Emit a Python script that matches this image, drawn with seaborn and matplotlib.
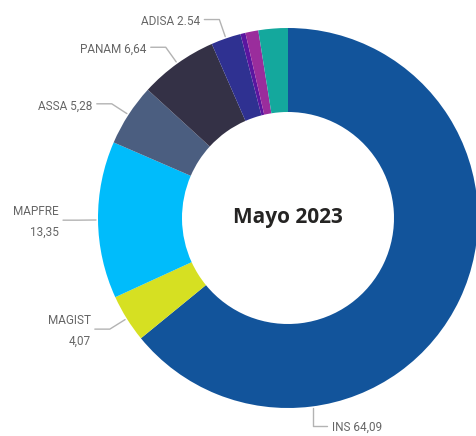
import numpy as np
import matplotlib
matplotlib.use("Agg")
import matplotlib.pyplot as plt
import seaborn as sns

# ================= estilo =================
sns.set_style("white")
plt.rcParams["font.family"] = ["Roboto", "DejaVu Sans"]

# 1. datos (participación de mercado, %)
aseguradoras = ["INS", "MAGIST", "MAPFRE", "ASSA", "PANAM", "ADISA", "OTRA 1", "OTRA 2", "OTRA 3"]
participacion = [64.09, 4.07, 13.35, 5.28, 6.64, 2.54, 0.43, 1.10, 2.50]
etiquetas = ["INS 64,09", "MAGIST\n4,07", "MAPFRE\n13,35", "ASSA 5,28",
             "PANAM 6,64", "ADISA 2.54", None, None, None]
colores = ["#12549b", "#d6e022", "#00bcfb", "#4b5e80", "#343146",
           "#2f3191", "#5a16a0", "#9a2d9c", "#14a89d"]
titulo = "Mayo 2023"

# 2. lienzo en coordenadas de pixel
W, H = 476, 436
fig = plt.figure(figsize=(W / 100, H / 100), dpi=100)
ax = fig.add_axes([0, 0, 1, 1])

cx, cy, R, ancho = 288, H - 218, 190, 84

ax.pie(participacion, colors=colores, startangle=90, counterclock=False,
       radius=R, center=(cx, cy),
       wedgeprops=dict(width=ancho, edgecolor="none"), frame=True)
ax.set_xlim(0, W)
ax.set_ylim(0, H)
ax.set_aspect("equal")
ax.axis("off")

ax.text(cx, cy, titulo, ha="center", va="center", fontsize=15,
        fontweight="bold", color="#252423", family=["Open Sans", "DejaVu Sans"])

# 3. etiquetas con líneas guía
# fracción del sector donde nace la guía (INS se etiqueta abajo)
frac_ancla = {"INS": 0.748}
total = sum(participacion)
acum = 0.0
for nombre, v, lab in zip(aseguradoras, participacion, etiquetas):
    ini = acum
    acum += v
    if lab is None:
        continue
    f = frac_ancla.get(nombre, 0.5)
    ang = np.deg2rad((ini + f * v) / total * 360)  # horario desde arriba
    x0, y0 = cx + (R + 2) * np.sin(ang), cy + (R + 2) * np.cos(ang)
    if nombre == "INS":
        x1, y1 = x0, y0 - 18
        x2 = x1 + 14
        ax.plot([x0, x1, x2], [y0, y1, y1], color="#b3b3b3", lw=1)
        ax.text(x2 + 5, y1 - 1, lab, ha="left", va="center",
                fontsize=8.5, color="#666666")
        continue
    x1, y1 = cx + (R + 20) * np.sin(ang), cy + (R + 20) * np.cos(ang)
    x2 = x1 - 15
    ax.plot([x0, x1, x2], [y0, y1, y1], color="#b3b3b3", lw=1)
    ax.text(x2 - 4, y1 - 2, lab, ha="right", va="center", fontsize=8.5,
            color="#666666", multialignment="right", linespacing=1.8)

fig.savefig("out.png", dpi=100)
